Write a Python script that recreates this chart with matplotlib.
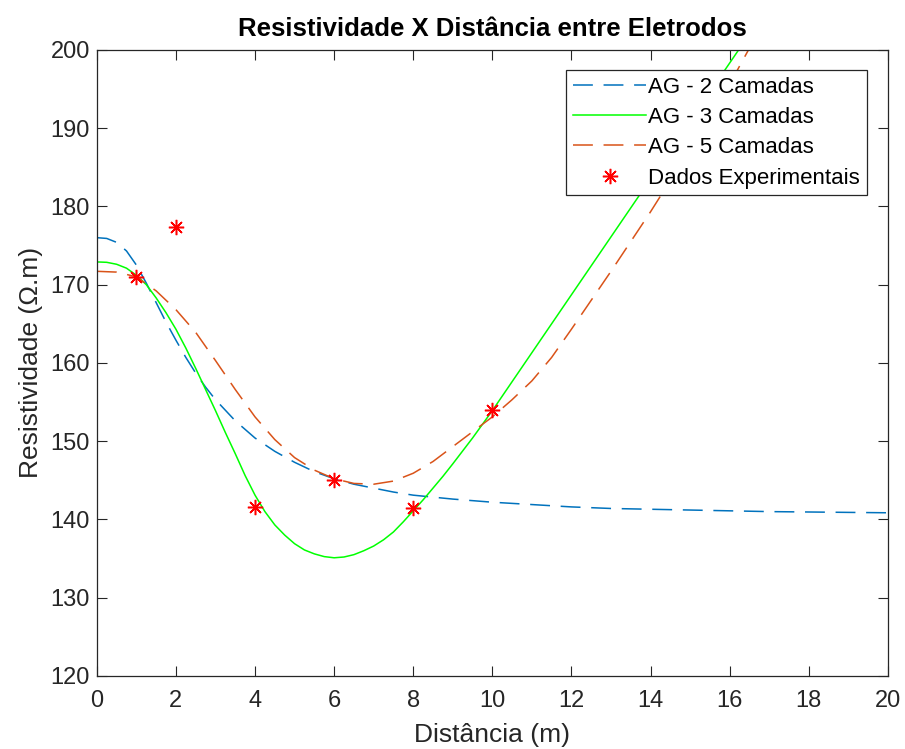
import matplotlib.pyplot as plt

plt.rcParams['font.family'] = ['Liberation Sans', 'DejaVu Sans']

# curves (distance in m, resistivity in ohm.m)
x_ag2 = [0, 0.25, 0.5, 0.75, 1.0, 1.25, 1.5, 1.75, 2.0, 2.25, 2.5, 2.75, 3.0, 3.5,
         4.0, 4.5, 5.0, 5.5, 6.0, 6.5, 7.0, 7.5, 8.0, 9.0, 10, 11, 12, 13, 14, 15,
         16, 17, 18, 19, 20]
y_ag2 = [176.0, 175.9, 175.4, 174.3, 172.5, 170.2, 167.7, 165.2, 162.9, 160.7,
         158.7, 156.9, 155.3, 152.6, 150.4, 148.7, 147.3, 146.1, 145.2, 144.5,
         144.0, 143.5, 143.1, 142.6, 142.2, 141.9, 141.6, 141.4, 141.3, 141.2,
         141.1, 141.0, 140.95, 140.9, 140.85]

x_ag3 = [0, 0.25, 0.5, 0.75, 1.0, 1.25, 1.5, 1.75, 2.0, 2.25, 2.5, 2.75, 3.0,
         3.25, 3.5, 3.75, 4.0, 4.25, 4.5, 4.75, 5.0, 5.25, 5.5, 5.75, 6.0, 6.25,
         6.5, 6.75, 7.0, 7.25, 7.5, 7.75, 8.0, 8.25, 8.5, 8.75, 9.0, 9.5, 10.0,
         10.5, 11.0, 11.5, 12.0, 12.5, 13.0, 13.5, 14.0, 14.5, 15.0, 15.5, 16.0, 16.5]
y_ag3 = [172.9, 172.85, 172.6, 172.1, 171.2, 170.0, 168.3, 166.4, 164.3, 161.9,
         159.3, 156.6, 153.9, 151.1, 148.4, 145.6, 143.1, 141.0, 139.3, 138.0,
         136.9, 136.1, 135.6, 135.25, 135.1, 135.2, 135.5, 136.0, 136.6, 137.4,
         138.4, 139.7, 141.1, 142.5, 144.0, 145.5, 147.1, 150.4, 153.9, 157.6,
         161.3, 165.0, 168.7, 172.4, 176.1, 179.8, 183.5, 187.2, 190.9, 194.6,
         198.3, 202.0]

x_ag5 = [0, 0.5, 1.0, 1.5, 2.0, 2.5, 3.0, 3.5, 4.0, 4.5, 5.0, 5.5, 6.0, 6.5,
         7.0, 7.5, 8.0, 8.5, 9.0, 9.5, 10.0, 10.5, 11.0, 11.5, 12.0, 13.0,
         14.0, 15.0, 16.0, 16.5, 17.0]
y_ag5 = [171.7, 171.6, 171.0, 169.2, 166.8, 163.9, 160.3, 156.6, 153.1, 150.2,
         147.9, 146.3, 145.2, 144.6, 144.5, 144.9, 145.9, 147.4, 149.3, 151.2,
         153.1, 155.3, 157.7, 160.7, 164.3, 171.7, 179.3, 187.3, 195.6, 200.2, 204.8]

x_exp = [1, 2, 4, 6, 8, 10]
y_exp = [171.0, 177.3, 141.6, 145.1, 141.4, 154.0]

fig = plt.figure(figsize=(9.05, 7.49), dpi=100)
ax = fig.add_axes([0.107, 0.0975, 0.874, 0.836])

ax.plot(x_ag2, y_ag2, color='#0072BD', lw=1.1, dashes=(13, 7), label='AG - 2 Camadas')
ax.plot(x_ag3, y_ag3, color='#00FF00', lw=1.1, label='AG - 3 Camadas')
ax.plot(x_ag5, y_ag5, color='#D95319', lw=1.1, dashes=(13, 7), label='AG - 5 Camadas')
ax.plot(x_exp, y_exp, ls='none', marker=(8, 2, 0), ms=11, mew=1.1,
        color='#FF0000', label='Dados Experimentais')

ax.set_xlim(0, 20)
ax.set_ylim(120, 200)
ax.set_xticks(range(0, 21, 2))
ax.set_yticks(range(120, 201, 10))

ax.tick_params(direction='in', length=7, width=0.8, top=True, right=True,
               labelsize=17, colors='#262626', pad=5)
ax.tick_params(axis='x', pad=10)
for s in ax.spines.values():
    s.set_color('#262626')
    s.set_linewidth(0.9)

ax.set_xlabel('Distância (m)', fontsize=19, color='#262626', labelpad=8)
ax.set_ylabel('Resistividade (Ω.m)', fontsize=19, color='#262626', labelpad=5)
ax.set_title('Resistividade X Distância entre Eletrodos', fontsize=18.5,
             fontweight='bold', color='#000000', pad=10)

leg = ax.legend(loc='upper right', bbox_to_anchor=(0.9735, 0.968), borderaxespad=0,
                fancybox=False, fontsize=16, handlelength=3.3, handletextpad=0.1,
                labelspacing=0.42, borderpad=0.3, framealpha=1)
leg.get_frame().set_edgecolor('#262626')
leg.get_frame().set_linewidth(0.9)

fig.savefig('out.png', dpi=100)
